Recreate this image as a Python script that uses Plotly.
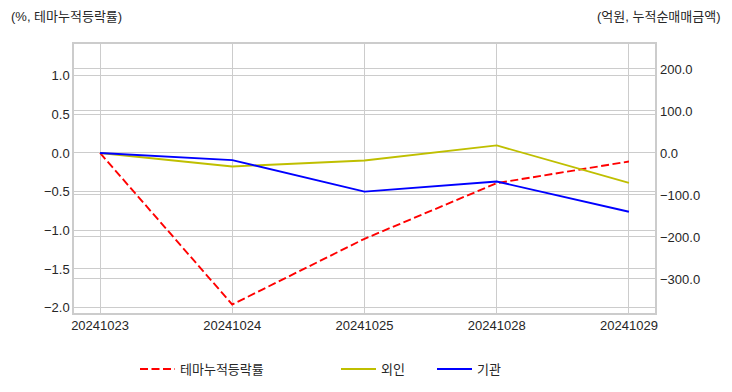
import plotly.graph_objects as go

dates = ["20241023", "20241024", "20241025", "20241028", "20241029"]
theme_rate = [0.0, -1.96, -1.11, -0.39, -0.11]
foreign = [0.0, -32, -18, 18, -71]
institution = [0.0, -17, -92, -68, -140]

left_ticks = [-2.0, -1.5, -1.0, -0.5, 0.0, 0.5, 1.0]
right_ticks = [-300, -200, -100, 0, 100, 200]

FONT = "Liberation Sans, Noto Sans CJK KR, sans-serif"
TXT = "#262626"
GRID = "#cccccc"

fig = go.Figure()
fig.add_trace(go.Scatter(x=list(range(len(dates))), y=theme_rate, name="테마누적등락률",
                         mode="lines", line=dict(color="#ff0000", width=1.9, dash="8px,3.5px"),
                         yaxis="y", legend="legend"))
fig.add_trace(go.Scatter(x=list(range(len(dates))), y=foreign, name="외인",
                         mode="lines", line=dict(color="#bfbf00", width=1.9),
                         yaxis="y2", legend="legend2"))
fig.add_trace(go.Scatter(x=list(range(len(dates))), y=institution, name="기관",
                         mode="lines", line=dict(color="#0000ff", width=1.9),
                         yaxis="y2", legend="legend3"))

# page body has an 8px margin, so the figure is 724x384 drawn at (8, 8)
FIG_W, FIG_H = 724, 384
legend_common = dict(orientation="h", yanchor="middle", yref="container", xref="container",
                     y=(FIG_H - (369 - 8)) / FIG_H, xanchor="left",
                     font=dict(family=FONT, size=13, color=TXT), bgcolor="rgba(0,0,0,0)",
                     itemwidth=35)

fig.update_layout(
    width=FIG_W, height=FIG_H,
    margin=dict(l=66, r=77, t=36, b=79, autoexpand=False),
    paper_bgcolor="white", plot_bgcolor="white",
    font=dict(family=FONT, size=13, color=TXT),
    xaxis=dict(tickmode="array", tickvals=list(range(len(dates))), ticktext=dates,
               range=[-0.197, 4.197], showgrid=True, gridcolor=GRID, gridwidth=1,
               showline=True, linecolor=GRID, linewidth=1.5, mirror=True,
               zeroline=False, ticks="", tickfont=dict(size=13, color=TXT)),
    yaxis=dict(range=[-2.07, 1.41], tickmode="array", tickvals=left_ticks,
               tickformat=".1f", showgrid=True, gridcolor=GRID, gridwidth=1,
               showline=True, linecolor=GRID, linewidth=1.5, mirror=True,
               zeroline=False, ticks="", tickfont=dict(size=13, color=TXT)),
    yaxis2=dict(range=[-381, 259.5], tickmode="array", tickvals=right_ticks,
                tickformat=".1f", overlaying="y", side="right",
                showgrid=True, gridcolor=GRID, gridwidth=1, zeroline=False,
                showline=False, ticks="", ticklabelstandoff=4,
                tickfont=dict(size=13, color=TXT)),
    legend=dict(legend_common, x=(140 - 8 - 5) / FIG_W),
    legend2=dict(legend_common, x=(341 - 8 - 5) / FIG_W),
    legend3=dict(legend_common, x=(437 - 8 - 5) / FIG_W),
    showlegend=True,
    annotations=[
        dict(text="(%, 테마누적등락률)", xref="paper", yref="paper", x=0, y=1,
             xanchor="left", yanchor="middle", showarrow=False,
             xshift=-65, yshift=28,
             font=dict(family=FONT, size=13, color=TXT)),
        dict(text="(억원, 누적순매매금액)", xref="paper", yref="paper", x=1, y=1,
             xanchor="right", yanchor="middle", showarrow=False,
             xshift=68, yshift=28,
             font=dict(family=FONT, size=13, color=TXT)),
    ],
)

fig.write_html("out.html")
